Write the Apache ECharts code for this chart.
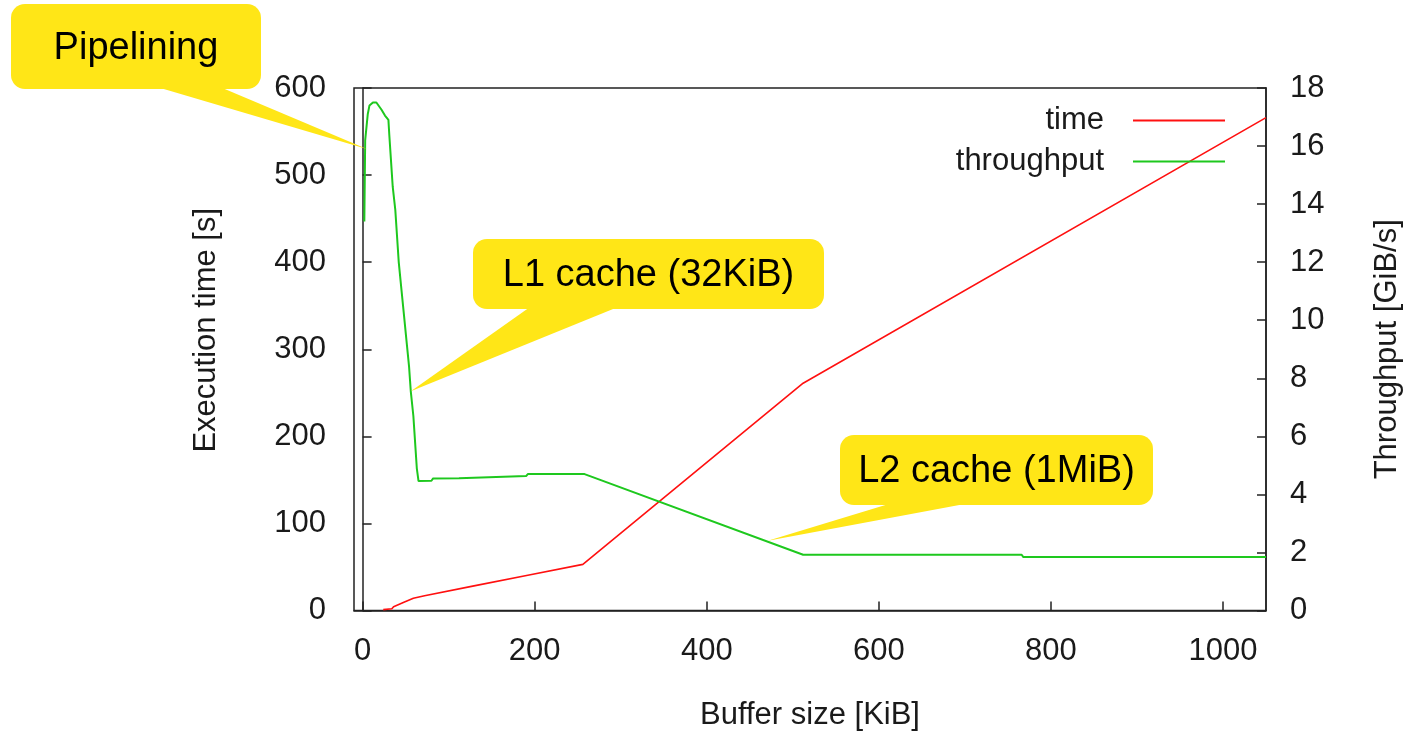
<!DOCTYPE html>
<html><head><meta charset="utf-8">
<script src="https://cdn.jsdelivr.net/npm/echarts@6/dist/echarts.min.js"></script>
<style>html,body{margin:0;padding:0;background:#fff}#c{width:1410px;height:732px}</style>
</head><body><div id="c"></div>
<script>
// ---- data ----
const bufferTime = [24, 34, 36, 48, 59, 72, 128, 192, 256, 512, 1050];
const timeValues = [1, 2, 4.4, 9.5, 14, 17, 28, 40.5, 53, 261, 566];

const bufferThr = [2,3,6,8,12,16,22,26,30,31,33,35,38,40,42,45,48,51,54,56,59,61,63,65,80,82,112,114,190,192,258,512,766,768,1050];
const thrValues = [13.4,16.2,17.1,17.4,17.5,17.5,17.25,17.05,16.9,16.4,15.5,14.6,13.8,12.9,12.0,11.1,10.2,9.3,8.4,7.55,6.7,5.8,4.9,4.46,4.47,4.55,4.56,4.62,4.63,4.70,4.70,1.92,1.92,1.84,1.84];

const xTicks = [0, 200, 400, 600, 800, 1000];
const seriesNames = ['time', 'throughput'];
const axisNames = ['Buffer size [KiB]', 'Execution time [s]', 'Throughput [GiB/s]'];

const annotationTexts = ['Pipelining', 'L1 cache (32KiB)', 'L2 cache (1MiB)'];
const annotationTargets = [[5, 15.9], [56, 7.55], [471, 2.4]]; // points on throughput curve

// ---- chart ----
const FONT = "'Liberation Sans', Arial, sans-serif";
const TXT = '#1a1a1a';
const chart = echarts.init(document.getElementById('c'), null, {renderer: 'canvas'});

const timeData = bufferTime.map((x, i) => [x, timeValues[i]]);
const thrData = bufferThr.map((x, i) => [x, thrValues[i]]);

const axisLine = {show: true, lineStyle: {color: '#222', width: 1.5}};
const tick = {show: true, inside: true, length: 9, lineStyle: {color: '#222', width: 1.5}};
const plain = v => String(v);

chart.setOption({
  animation: false,
  backgroundColor: '#fff',
  grid: {left: 354, right: 144, top: 88, bottom: 121.5, outerBoundsMode: 'none', containLabel: false,
         show: true, borderColor: '#222', borderWidth: 1.5, backgroundColor: 'transparent'},
  legend: {
    orient: 'vertical', right: 180, top: 100, align: 'right',
    icon: 'rect', itemWidth: 92, itemHeight: 2, itemGap: 10,
    textStyle: {fontSize: 31, fontFamily: FONT, color: TXT, padding: [0, 24, 0, 0]},
    data: seriesNames
  },
  xAxis: {
    type: 'value', min: -10, max: 1050,
    name: axisNames[0], nameLocation: 'middle', nameGap: 89,
    nameTextStyle: {fontSize: 31, fontFamily: FONT, color: TXT},
    axisLine: axisLine,
    axisTick: Object.assign({}, tick, {customValues: xTicks}),
    axisLabel: {customValues: xTicks, formatter: plain, fontSize: 31, fontFamily: FONT, color: TXT, margin: 25},
    splitLine: {show: false}
  },
  yAxis: [{
    type: 'value', min: 0, max: 600, interval: 100, position: 'left',
    name: axisNames[1], nameLocation: 'middle', nameGap: 132,
    nameTextStyle: {fontSize: 31, fontFamily: FONT, color: TXT, padding: [0, 0, 0, 38]},
    axisLine: axisLine, axisTick: tick,
    axisLabel: {formatter: plain, fontSize: 31, fontFamily: FONT, color: TXT, margin: 28},
    splitLine: {show: false}
  }, {
    type: 'value', min: 0, max: 18, interval: 2, position: 'right',
    name: axisNames[2], nameLocation: 'middle', nameGap: 106,
    nameTextStyle: {fontSize: 31, fontFamily: FONT, color: TXT},
    axisLine: axisLine, axisTick: tick,
    axisLabel: {formatter: plain, fontSize: 31, fontFamily: FONT, color: TXT, margin: 24},
    splitLine: {show: false}
  }],
  series: [{
    name: seriesNames[0], type: 'line', yAxisIndex: 0, data: timeData,
    symbol: 'none', lineStyle: {color: '#ff1010', width: 1.6}, itemStyle: {color: '#ff1010'}
  }, {
    name: seriesNames[1], type: 'line', yAxisIndex: 1, data: thrData,
    symbol: 'none', lineStyle: {color: '#1ec81e', width: 2}, itemStyle: {color: '#1ec81e'}
  }]
});

// ---- callouts (boxes laid out in pixels, tips anchored to data) ----
const YELLOW = '#ffe617';
const boxes = [
  {x: 11, y: 4, w: 250, h: 85, base: [157, 220], cy: 49},
  {x: 473, y: 239, w: 351, h: 70, base: [530, 618], cy: 276},
  {x: 840, y: 435, w: 313, h: 70, base: [892, 970], cy: 472}
];
const graphics = [];
boxes.forEach((b, i) => {
  const tip = chart.convertToPixel({xAxisIndex: 0, yAxisIndex: 1}, annotationTargets[i]);
  graphics.push({
    type: 'polygon', z: 100,
    shape: {points: [[b.base[0], b.y + b.h - 2], [b.base[1], b.y + b.h - 2], tip]},
    style: {fill: YELLOW}
  });
  graphics.push({
    type: 'rect', z: 100,
    shape: {x: b.x, y: b.y, width: b.w, height: b.h, r: 14},
    style: {fill: YELLOW}
  });
  graphics.push({
    type: 'text', z: 101,
    x: b.x + b.w / 2, y: b.cy,
    style: {text: annotationTexts[i], font: "38px 'Liberation Sans', Arial, sans-serif", fill: '#000', align: 'center', verticalAlign: 'middle'}
  });
});
chart.setOption({graphic: graphics});
</script>
</body></html>
